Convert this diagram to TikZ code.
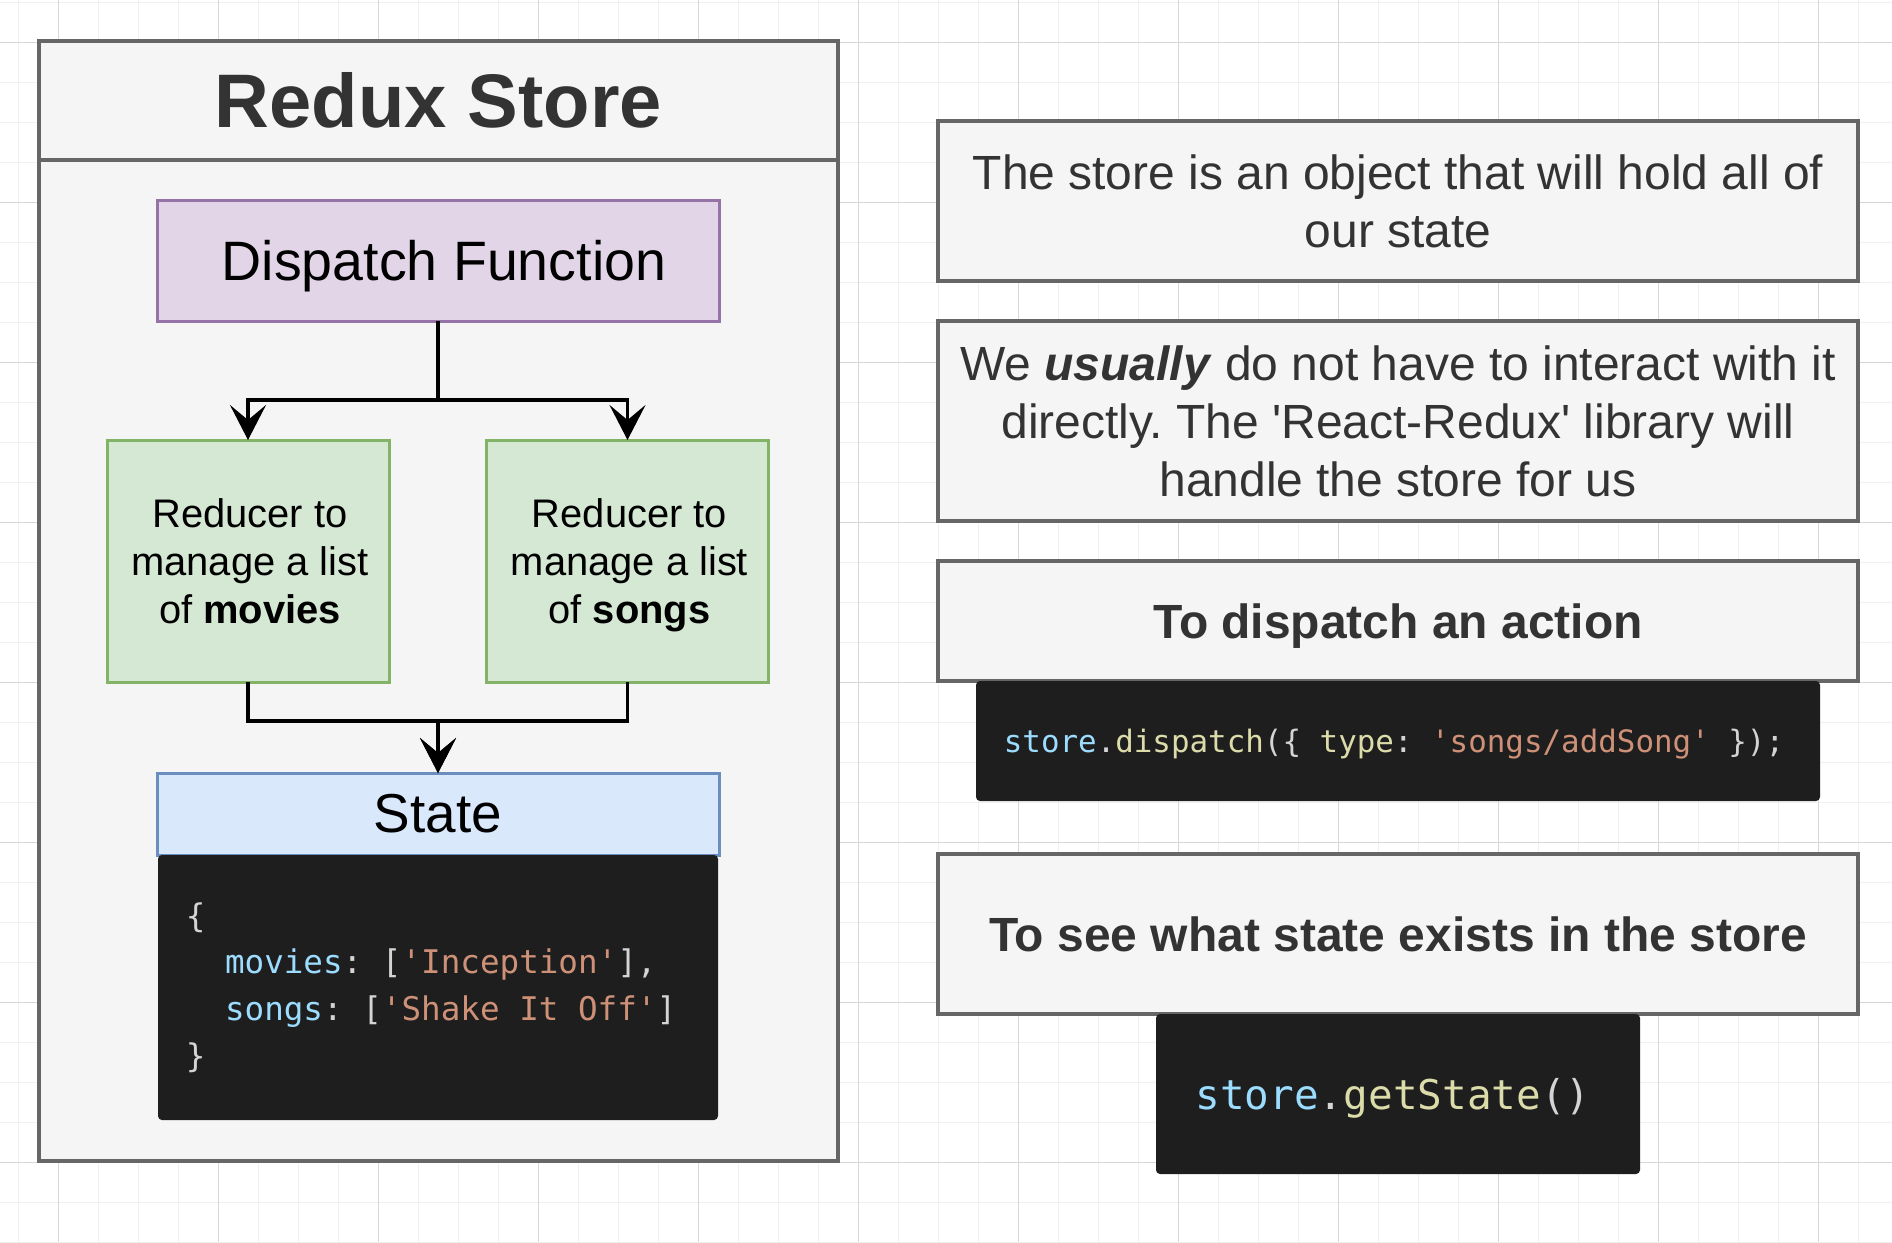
\documentclass[tikz,border=0pt]{standalone}
\usepackage{fontspec}
\setmainfont{Liberation Sans}[Ligatures=TeXOff]
\setmonofont{DejaVu Sans Mono}
\usepackage{xcolor}
\usetikzlibrary{arrows.meta,positioning,calc}
\frenchspacing

\definecolor{boxgray}{HTML}{F5F5F5}
\definecolor{boxline}{HTML}{666666}
\definecolor{txtgray}{HTML}{333333}
\definecolor{purplefill}{HTML}{E1D5E7}
\definecolor{purpleline}{HTML}{9673A6}
\definecolor{greenfill}{HTML}{D5E8D4}
\definecolor{greenline}{HTML}{82B366}
\definecolor{bluefill}{HTML}{DAE8FC}
\definecolor{blueline}{HTML}{6C8EBF}
\definecolor{codebg}{HTML}{1E1E1E}
\definecolor{codekey}{HTML}{9CDCFE}
\definecolor{codefn}{HTML}{DCDCAA}
\definecolor{codestr}{HTML}{CE9178}
\definecolor{codepunc}{HTML}{D4D4D4}
\definecolor{gridlite}{HTML}{F0F0F0}
\definecolor{griddark}{HTML}{D8D8D8}

\newcommand{\cKey}[1]{\textcolor{codekey}{#1}}
\newcommand{\cFn}[1]{\textcolor{codefn}{#1}}
\newcommand{\cStr}[1]{\textcolor{codestr}{#1}}

\begin{document}
\begin{tikzpicture}[x=0.1mm, y=-0.1mm,
    panel/.style={rectangle, draw=boxline, fill=boxgray, line width=0.35mm, inner sep=0pt, outer sep=0pt},
    note/.style={panel, minimum width=92mm, align=center, text=txtgray, font=\fontsize{13.65}{16.5}\selectfont},
    flowbox/.style={rectangle, line width=0.3mm, inner sep=0pt, outer sep=0pt},
    reducer/.style={flowbox, draw=greenline, fill=greenfill, minimum width=28.2mm, minimum height=24.2mm, align=center, font=\fontsize{11.35}{13.66}\selectfont},
    codebox/.style={rectangle, fill=codebg, rounded corners=0.4mm, inner sep=0pt, outer sep=0pt, text=codepunc},
    flow/.style={draw=black, line width=0.35mm, -{Stealth[length=3.5mm, width=3.6mm, inset=1.5mm]}},
    minorline/.style={draw=gridlite, line width=0.1mm},
    majorline/.style={draw=griddark, line width=0.1mm}
]
\useasboundingbox (0,0) rectangle (1892,1242);
\fill[white] (0,0) rectangle (1892,1242);

% Background grid
\foreach \gx in {18,58,...,1890} \draw[minorline] (\gx,0) -- (\gx,1242);
\foreach \gy in {2,42,...,1242} \draw[minorline] (0,\gy) -- (1892,\gy);
\foreach \gx in {58,218,...,1890} \draw[majorline] (\gx,0) -- (\gx,1242);
\foreach \gy in {42,202,...,1242} \draw[majorline] (0,\gy) -- (1892,\gy);

% Redux Store container
\node[panel, minimum width=79.9mm, minimum height=112mm] (store) at (438.5,601) {};
\node[panel, minimum width=79.9mm, minimum height=11.9mm, anchor=north, text=txtgray, font=\bfseries\fontsize{21.6}{25}\selectfont] (title) at (store.north) {Redux Store};

% Dispatch and reducers
\node[flowbox, draw=purpleline, fill=purplefill, minimum width=56.2mm, minimum height=12.1mm, text depth=0pt, font=\fontsize{15.8}{19}\selectfont] (dispatch) at (438,260.5) {\hspace*{1.2mm}Dispatch Function};
\node[reducer] (movies) at (248,561) {\hspace*{0.4mm}Reducer to\\\hspace*{0.4mm}manage a list\\\hspace*{0.4mm}of \textbf{movies}};
\node[reducer, text depth=0pt] (songs) at (627.5,561) {\hspace*{0.4mm}Reducer to\\\hspace*{0.4mm}manage a list\\\hspace*{0.4mm}of \textbf{songs}};

% State
\node[flowbox, draw=blueline, fill=bluefill, minimum width=56.2mm, minimum height=8.2mm, font=\fontsize{15.6}{19}\selectfont] (state) at (438,814) {State};
\node[codebox, minimum width=56mm, minimum height=26.5mm, align=left, font=\ttfamily\fontsize{9.27}{13.3}\selectfont, below=0pt of state] (statecode) {\{\\~~\cKey{movies}: [\cStr{'Inception'}],\\~~\cKey{songs}: [\cStr{'Shake It Off'}]\rule{1.4mm}{0pt}\\\}};

% Arrows
\draw[flow] (dispatch.south) -- ++(0,79) -| (movies.north);
\draw[flow] (dispatch.south) -- ++(0,79) -| (songs.north);
\draw[flow] (movies.south) -- ++(0,39) -| (state.north);
\draw[flow] (songs.south) -- ++(0,39) -| (state.north);

% Notes
\node[note, minimum height=16mm] (note1) at (1398,201) {The store is an object that will hold all of\\our state};
\node[note, minimum height=20mm] (note2) at (1398,421) {We \textbf{\textit{usually}} do not have to interact with it\\directly. The 'React-Redux' library will\\handle the store for us};
\node[note, minimum height=12mm, text depth=0pt, font=\bfseries\fontsize{13.65}{16.5}\selectfont] (note3) at (1398,621) {To dispatch an action};
\node[codebox, minimum width=84.4mm, minimum height=12mm, text depth=0pt, font=\ttfamily\fontsize{8.78}{11}\selectfont, below=0pt of note3] (dispatchcode) {\cKey{store}.\cFn{dispatch}(\{ \cFn{type}: \cStr{'songs/addSong'} \});\hspace*{0.8mm}};
\node[note, minimum height=16mm, font=\bfseries\fontsize{13.65}{16.5}\selectfont] (note4) at (1398,934) {To see what state exists in the store};
\node[codebox, minimum width=48.4mm, minimum height=16mm, text depth=0pt, font=\ttfamily\fontsize{11.66}{14}\selectfont, below=0pt of note4] (getcode) {\cKey{store}.\cFn{getState}()\hspace*{1mm}};
\end{tikzpicture}
\end{document}
